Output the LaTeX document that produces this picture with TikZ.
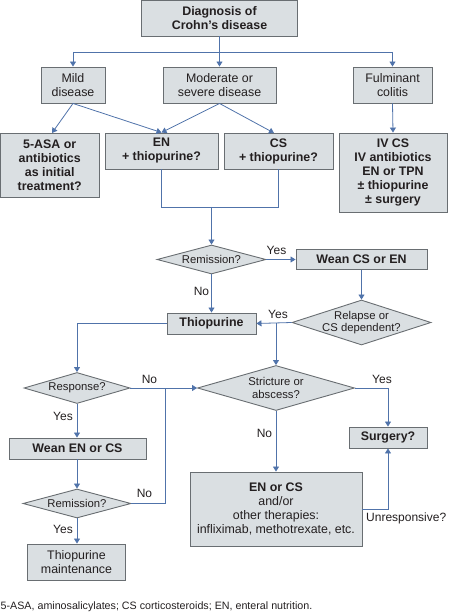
\documentclass[tikz,border=0pt]{standalone}
\usepackage{fontspec}
\setmainfont{Liberation Sans}
\usetikzlibrary{arrows.meta,shapes.geometric}
\definecolor{boxfill}{RGB}{218,223,226}
\definecolor{boxdraw}{RGB}{105,110,114}
\definecolor{linec}{RGB}{80,115,170}
\definecolor{txt}{RGB}{35,31,32}
\begin{document}
\begin{tikzpicture}[x=1pt,y=-1pt,
 box/.style={draw=boxdraw, fill=boxfill, line width=0.9pt, inner sep=0pt, align=center, text=txt, font=\fontsize{12.4}{14}\selectfont},
 bbox/.style={box, font=\fontsize{12.4}{14}\selectfont\bfseries},
 dia/.style={diamond, draw=boxdraw, fill=boxfill, line width=0.9pt, inner sep=0pt},
 dtext/.style={align=center, text=txt, inner sep=0pt, font=\fontsize{11.3}{12.8}\selectfont},
 arr/.style={draw=linec, line width=0.8pt, -{Triangle[width=6pt,length=5pt]}},
 ln/.style={draw=linec, line width=0.8pt},
 lab/.style={text=txt, inner sep=0pt, anchor=base, font=\fontsize{12}{14}\selectfont}]
\useasboundingbox (0,0) rectangle (448,612);
% boxes
\node[bbox, minimum width=156, minimum height=36] (diag) at (219.5,18) {Diagnosis of\\Crohn’s disease};
\node[box, minimum width=64, minimum height=36] (mild) at (73,85) {Mild\\disease};
\node[box, minimum width=113, minimum height=36] (mod) at (219.5,85) {Moderate or\\severe disease};
\node[box, minimum width=79, minimum height=36] (ful) at (392.5,85) {Fulminant\\colitis};
\node[bbox, minimum width=98.5, minimum height=64] (asa) at (49.75,165) {5-ASA or\\antibiotics\\as initial\\treatment?};
\node[bbox, minimum width=113, minimum height=36] (en) at (161.5,151) {EN\\+ thiopurine?};
\node[bbox, minimum width=109, minimum height=36] (cs) at (278.5,151) {CS\\+ thiopurine?};
\node[bbox, minimum width=108, minimum height=79] (ivcs) at (393,172.5) {IV CS\\IV antibiotics\\EN or TPN\\± thiopurine\\± surgery};
\node[dia, minimum width=109, minimum height=29, label={[dtext]center:Remission?}] (rem1) at (211.5,259.5) {};
\node[bbox, minimum width=131, minimum height=20] (wean1) at (361.5,259.5) {Wean CS or EN};
\node[dia, minimum width=139, minimum height=45, label={[dtext]center:Relapse or\\CS dependent?}] (relapse) at (361.5,322.5) {};
\node[bbox, minimum width=89, minimum height=21] (thio) at (211.5,323.5) {Thiopurine};
\node[dia, minimum width=106, minimum height=31, label={[dtext]center:Response?}] (resp) at (77,388) {};
\node[dia, minimum width=157, minimum height=45, label={[dtext]center:Stricture or\\abscess?}] (strict) at (276,388) {};
\node[bbox, minimum width=78, minimum height=21] (surg) at (388,437.5) {Surgery?};
\node[box, minimum width=172, minimum height=74] (enor) at (276,509) {\textbf{EN or CS}\\and/or\\other therapies:\\infliximab, methotrexate, etc.};
\node[bbox, minimum width=137, minimum height=21] (wean2) at (77.5,448.5) {Wean EN or CS};
\node[dia, minimum width=108, minimum height=29, label={[dtext]center:Remission?}] (rem2) at (77,503.5) {};
\node[box, minimum width=98, minimum height=36] (maint) at (76.5,562) {Thiopurine\\maintenance};
% helper coordinates
\coordinate (j1) at (219.5,52);
\coordinate (asaIn) at (52,133);
\coordinate (csIn) at (274,133);
\coordinate (jm) at (211.5,207);
\coordinate (tj) at (276,322.5);
\coordinate (rj) at (165,388);
% connectors
\draw[arr] (diag.south) -- (mod.north);
\draw[ln] (mild.north |- j1) -- (ful.north |- j1);
\draw[arr] (mild.north |- j1) -- (mild.north);
\draw[arr] (ful.north |- j1) -- (ful.north);
\draw[arr] (mild.south) -- (asaIn);
\draw[arr] (mild.south) -- (en.north);
\draw[arr] (mod.south) -- (en.north);
\draw[arr] (mod.south) -- (csIn);
\draw[arr] (ful.south) -- (ivcs.north);
\draw[ln] (en.south) -- (en.south |- jm) -- (cs.south |- jm) -- (cs.south);
\draw[arr] (jm) -- (rem1.north);
\draw[arr] (rem1.east) -- (wean1.west);
\draw[arr] (wean1.south) -- (relapse.north);
\draw[arr] (rem1.south) -- (thio.north);
\draw[arr] (relapse.west) -- (thio.east);
\draw[arr] (tj) -- (strict.north);
\draw[arr] (thio.west) -| (resp.north);
\draw[arr] (resp.east) -- (strict.west);
\draw[ln] (rem2.east) -| (rj);
\draw[arr] (strict.east) -| (surg.north);
\draw[arr] (strict.south) -- (enor.north);
\draw[arr] (enor.east) -| (surg.south);
\draw[arr] (resp.south) -- (wean2.north -| resp.south);
\draw[arr] (wean2.south -| rem2.north) -- (rem2.north);
\draw[arr] (rem2.south) -- (maint.north -| rem2.south);
% labels
\node[lab] (l1) at (276.5,254) {Yes};
\node[lab] (l2) at (201.5,295) {No};
\node[lab] (l3) at (278,318) {Yes};
\node[lab] (l4) at (149.5,383) {No};
\node[lab] (l5) at (382,383) {Yes};
\node[lab] (l6) at (264.5,437) {No};
\node[lab] (l7) at (63,420) {Yes};
\node[lab] (l8) at (144.5,497) {No};
\node[lab] (l9) at (63,533) {Yes};
\node[lab, anchor=base west] (l10) at (366,521.7) {Unresponsive?};
\node[text=txt, inner sep=0pt, anchor=base west, font=\fontsize{10.7}{12}\selectfont] (foot) at (0.5,609.5) {5-ASA, aminosalicylates; CS corticosteroids; EN, enteral nutrition.};
\end{tikzpicture}
\end{document}
